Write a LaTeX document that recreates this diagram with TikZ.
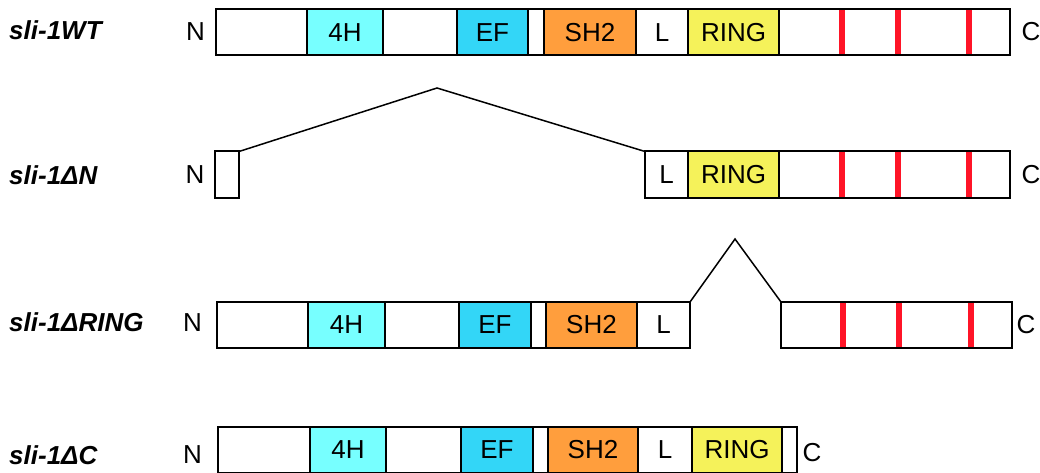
\documentclass[tikz,border=0pt]{standalone}
\usepackage{fontspec}
\setmainfont{Liberation Sans}
\definecolor{c4h}{HTML}{77FFFF}
\definecolor{cef}{HTML}{33D6F7}
\definecolor{csh}{HTML}{FF9E3D}
\definecolor{cring}{HTML}{F5F25A}
\definecolor{cred}{HTML}{FF1427}
\begin{document}
\begin{tikzpicture}[x=1pt,y=-1pt,
  seg/.style={draw=black, line width=2pt, minimum height=46pt, inner sep=0pt, outer sep=0pt, anchor=west, font=\fontsize{26}{30}\selectfont},
  lab/.style={anchor=west, inner sep=0pt, font=\fontsize{26}{30}\selectfont\bfseries\itshape},
  term/.style={inner sep=0pt, font=\fontsize{26}{30}\selectfont},
  redbar/.style={draw=cred, line width=6pt},
  del/.style={draw=black, line width=1.5pt, line join=miter}]
\path[use as bounding box] (0,0) rectangle (1040,473);
% ---------- row 1: WT ----------
\node[lab] (l1) at (9,30) {sli-1WT};
\node[term] (n1) at (195.5,32) {N};
\node[seg, minimum width=91pt] (a1) at (216,32.5) {};
\node[seg, minimum width=76pt, fill=c4h] (a2) at (307,32.5) {4H};
\node[seg, minimum width=74pt] (a3) at (383,32.5) {};
\node[seg, minimum width=71pt, fill=cef] (a4) at (457,32.5) {EF};
\node[seg, minimum width=16pt] (a5) at (528,32.5) {};
\node[seg, minimum width=92pt, fill=csh] (a6) at (544,32.5) {SH2};
\node[seg, minimum width=52pt] (a7) at (636,32.5) {L};
\node[seg, minimum width=91pt, fill=cring] (a8) at (688,32.5) {RING};
\node[seg, minimum width=231pt] (a9) at (779,32.5) {};
\foreach \x in {842,898,969} \draw[redbar] (\x,10.5) -- (\x,54.5);
\node[term] (c1) at (1031,32) {C};
% ---------- row 2: delta N ----------
\node[lab] (l2) at (9,175) {sli-1ΔN};
\node[term] (n2) at (195,174.5) {N};
\node[seg, minimum width=24pt] (b1) at (215,174.5) {};
\node[seg, minimum width=43pt] (b2) at (645,174.5) {L};
\node[seg, minimum width=91pt, fill=cring] (b3) at (688,174.5) {RING};
\node[seg, minimum width=231pt] (b4) at (779,174.5) {};
\foreach \x in {842,898,969} \draw[redbar] (\x,152.5) -- (\x,196.5);
\node[term] (c2) at (1031,174.5) {C};
\coordinate (apex2) at (437,88);
\draw[del] (b1.north east) -- (apex2) -- (b2.north west);
% ---------- row 3: delta RING ----------
\node[lab] (l3) at (9,322) {sli-1ΔRING};
\node[term] (n3) at (192.5,323) {N};
\node[seg, minimum width=91pt] (r1) at (217,325) {};
\node[seg, minimum width=77pt, fill=c4h] (r2) at (308,325) {4H};
\node[seg, minimum width=74pt] (r3) at (385,325) {};
\node[seg, minimum width=72pt, fill=cef] (r4) at (459,325) {EF};
\node[seg, minimum width=15pt] (r5) at (531,325) {};
\node[seg, minimum width=91pt, fill=csh] (r6) at (546,325) {SH2};
\node[seg, minimum width=53pt] (r7) at (637,325) {L};
\node[seg, minimum width=231pt] (r8) at (781,325) {};
\foreach \x in {843,899,971} \draw[redbar] (\x,303) -- (\x,347);
\node[term] (c3) at (1026,325) {C};
\coordinate (apex3) at (735,239);
\draw[del] (r7.north east) -- (apex3) -- (r8.north west);
% ---------- row 4: delta C ----------
\node[lab] (l4) at (9,455) {sli-1ΔC};
\node[term] (n4) at (192.5,455) {N};
\node[seg, minimum width=92pt] (d1) at (218,450) {};
\node[seg, minimum width=76pt, fill=c4h] (d2) at (310,450) {4H};
\node[seg, minimum width=75pt] (d3) at (386,450) {};
\node[seg, minimum width=72pt, fill=cef] (d4) at (461,450) {EF};
\node[seg, minimum width=15pt] (d5) at (533,450) {};
\node[seg, minimum width=90pt, fill=csh] (d6) at (548,450) {SH2};
\node[seg, minimum width=54pt] (d7) at (638,450) {L};
\node[seg, minimum width=90pt, fill=cring] (d8) at (692,450) {RING};
\node[seg, minimum width=15pt] (d9) at (782,450) {};
\node[term] (c4) at (812,453) {C};
\end{tikzpicture}
\end{document}
